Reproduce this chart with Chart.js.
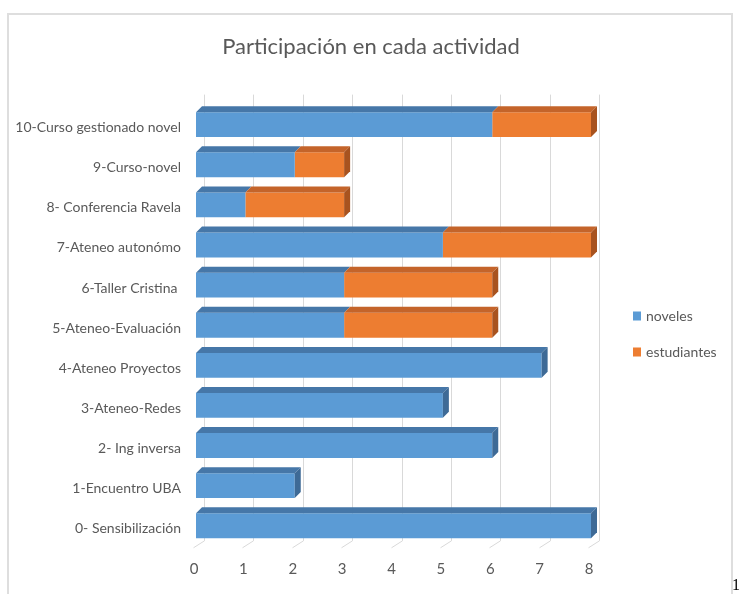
<!DOCTYPE html>
<html>
<head>
<meta charset="utf-8">
<script src="https://cdn.jsdelivr.net/npm/chart.js@4"></script>
<style>
    html, body { margin: 0; padding: 0; background: #fff; }
    #frame { position: absolute; left: 7px; top: 13px; width: 722px; height: 700px;
             border: 2px solid #dedede; border-bottom: none; }
    #chart { position: absolute; left: 0; top: 0; }
    #pageNum { position: absolute; left: 732px; top: 576px; font: 16px "Liberation Serif", serif; color: #000; }
</style>
</head>
<body>
<div id="frame"></div>
<canvas id="chart" width="742" height="594"></canvas>
<div id="pageNum">1</div>
<script>
// datos
const categorias = [
    '10-Curso gestionado novel',
    '9-Curso-novel',
    '8- Conferencia Ravela',
    '7-Ateneo autonómo',
    '6-Taller Cristina ',
    '5-Ateneo-Evaluación',
    '4-Ateneo Proyectos',
    '3-Ateneo-Redes',
    '2- Ing inversa',
    '1-Encuentro UBA',
    '0- Sensibilización'
];
const noveles     = [6, 2, 1, 5, 3, 3, 7, 5, 6, 2, 8];
const estudiantes = [2, 1, 2, 3, 3, 3, 0, 0, 0, 0, 0];
const ticksX = [0, 1, 2, 3, 4, 5, 6, 7, 8];

const gris = '#595959';
const fuente = 'Lato, sans-serif';
Chart.defaults.font.family = fuente;
Chart.defaults.color = gris;

// colores: frente, tapa, lateral
const colores = [
    { front: '#5B9BD5', top: '#4677a8', side: '#3e6a96' },
    { front: '#ED7D31', top: '#c4642a', side: '#a8531f' }
];
const prof = { dx: 6, dy: 6 };   // profundidad de las barras
const fondo = { dx: 8, dy: 5 };  // desplazamiento de la pared del fondo

// pared de fondo con las líneas de grilla en perspectiva
const grilla3d = {
    id: 'grilla3d',
    beforeDatasetsDraw(chart) {
        const ctx = chart.ctx;
        const area = chart.chartArea;
        const sx = chart.scales.x;
        ctx.save();
        ctx.strokeStyle = '#d9d9d9';
        ctx.lineWidth = 1;
        ticksX.forEach(function(v) {
            const px = Math.round(sx.getPixelForValue(v)) + 0.5;
            ctx.beginPath();
            ctx.moveTo(px + fondo.dx, area.top - 10);
            ctx.lineTo(px + fondo.dx, area.bottom - fondo.dy);
            ctx.lineTo(px - 3, area.bottom + 2);
            ctx.stroke();
        });
        ctx.restore();
    }
};

// tapas y laterales de las barras
const barras3d = {
    id: 'barras3d',
    afterDatasetsDraw(chart) {
        const ctx = chart.ctx;
        const metas = chart.getSortedVisibleDatasetMetas();
        ctx.save();
        categorias.forEach(function(c, i) {
            let ultimo = null;
            metas.forEach(function(meta) {
                const v = chart.data.datasets[meta.index].data[i];
                if (!v) return;
                const p = meta.data[i].getProps(['x', 'y', 'base', 'height'], true);
                const arriba = p.y - p.height / 2;
                ctx.fillStyle = colores[meta.index].top;
                ctx.beginPath();
                ctx.moveTo(p.base, arriba);
                ctx.lineTo(p.base + prof.dx, arriba - prof.dy);
                ctx.lineTo(p.x + prof.dx, arriba - prof.dy);
                ctx.lineTo(p.x, arriba);
                ctx.closePath();
                ctx.fill();
                ultimo = { idx: meta.index, x: p.x, arriba: arriba, h: p.height };
            });
            if (ultimo) {
                ctx.fillStyle = colores[ultimo.idx].side;
                ctx.beginPath();
                ctx.moveTo(ultimo.x, ultimo.arriba);
                ctx.lineTo(ultimo.x + prof.dx, ultimo.arriba - prof.dy);
                ctx.lineTo(ultimo.x + prof.dx, ultimo.arriba + ultimo.h - prof.dy);
                ctx.lineTo(ultimo.x, ultimo.arriba + ultimo.h);
                ctx.closePath();
                ctx.fill();
            }
        });
        ctx.restore();
    }
};

// leyenda a la derecha
const leyenda = {
    id: 'leyenda',
    afterDraw(chart) {
        const ctx = chart.ctx;
        ctx.save();
        ctx.font = '14px ' + fuente;
        ctx.textBaseline = 'middle';
        ctx.textAlign = 'left';
        chart.data.datasets.forEach(function(ds, k) {
            const y = 316 + k * 36;
            ctx.fillStyle = ds.backgroundColor;
            ctx.fillRect(633, y - 4.5, 8, 9);
            ctx.fillStyle = gris;
            ctx.fillText(ds.label, 646, y);
        });
        ctx.restore();
    }
};

const ctx = document.getElementById('chart');
new Chart(ctx, {
    type: 'bar',
    data: {
        labels: categorias,
        datasets: [
            { label: 'noveles', data: noveles, backgroundColor: colores[0].front, xAxisID: 'x', yAxisID: 'y' },
            { label: 'estudiantes', data: estudiantes, backgroundColor: colores[1].front, xAxisID: 'x', yAxisID: 'y' }
        ]
    },
    options: {
        indexAxis: 'y',
        responsive: false,
        animation: false,
        barPercentage: 0.62,
        categoryPercentage: 1,
        layout: { padding: 0 },
        scales: {
            x: {
                type: 'linear',
                stacked: true,
                min: 0,
                max: 8,
                grid: { display: false, drawTicks: false, tickLength: 0 },
                border: { display: false },
                ticks: {
                    stepSize: 1,
                    padding: 14,
                    labelOffset: -2,
                    color: gris,
                    font: { size: 15 }
                },
                afterFit: function(s) { s.height = 48.2; }
            },
            y: {
                stacked: true,
                grid: { display: false, drawTicks: false, tickLength: 0 },
                border: { display: false },
                ticks: {
                    padding: 15,
                    labelOffset: 3,
                    color: gris,
                    font: { size: 14 }
                },
                afterFit: function(s) { s.width = 196; }
            },
            espacio: {
                type: 'linear',
                position: 'right',
                display: true,
                grid: { display: false },
                border: { display: false },
                ticks: { display: false },
                afterFit: function(s) { s.width = 151; }
            }
        },
        plugins: {
            legend: { display: false },
            tooltip: { enabled: false },
            title: {
                display: true,
                text: 'Participación en cada actividad',
                color: gris,
                font: { size: 22, weight: 'normal' },
                padding: { top: 34, bottom: 44.2 }
            }
        }
    },
    plugins: [grilla3d, barras3d, leyenda]
});
</script>
</body>
</html>
